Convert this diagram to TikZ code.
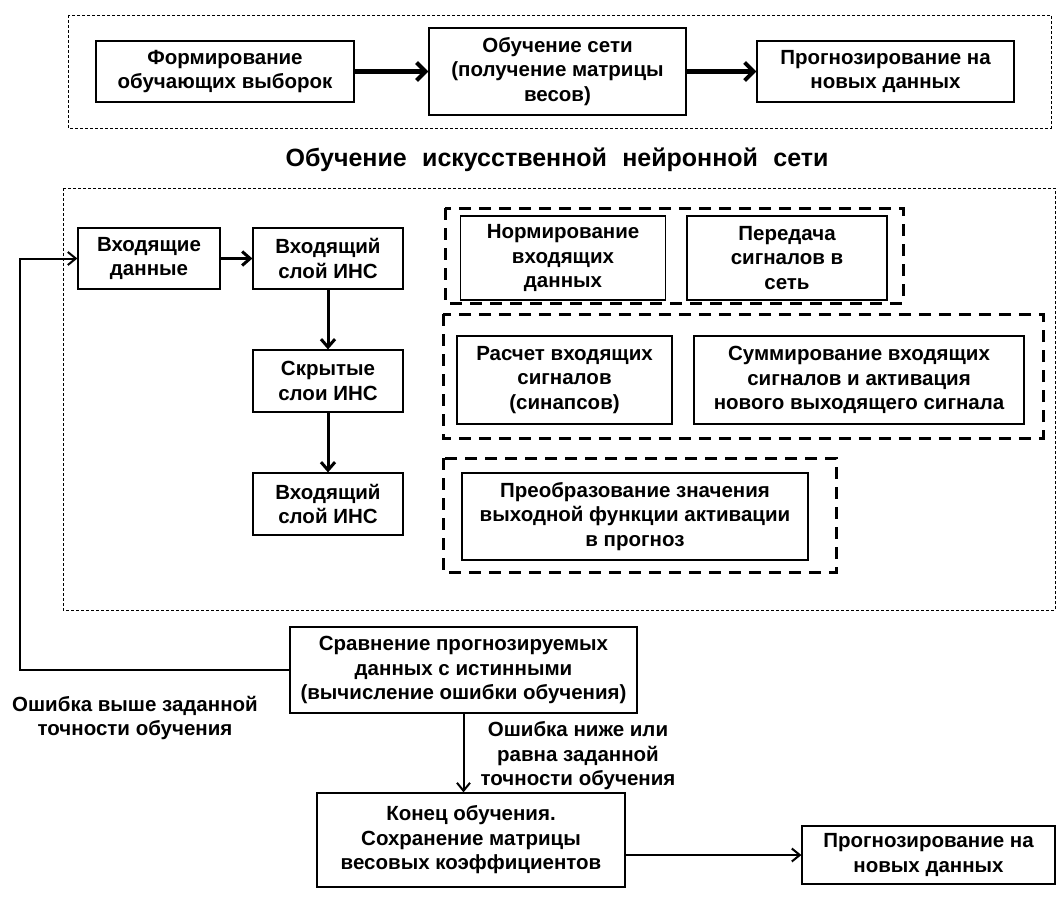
\documentclass[tikz,border=0pt]{standalone}
\usepackage{fontspec}
\setmainfont{Liberation Sans}
\newfontfamily\titlefont[WordSpace=2.2]{Liberation Sans}
\usepackage{tikz}
\usetikzlibrary{arrows.meta, positioning, calc}

\tikzset{
  box/.style={draw, line width=1.2pt, align=center, inner sep=0pt, font=\bfseries\fontsize{20.5}{24.5}\selectfont},
  frame/.style={draw, line width=0.8pt, dash pattern=on 3pt off 2pt},
  group/.style={draw, line width=3pt, dash pattern=on 12pt off 8pt},
  bigarrow/.style={-{Straight Barb[length=9pt,width=18pt]}, line width=4pt},
  midarrow/.style={-{Straight Barb[length=8pt,width=14pt]}, line width=3pt},
  thinarrow/.style={-{Straight Barb[length=8pt,width=13pt]}, line width=2pt},
  note/.style={align=center, inner sep=0pt, font=\bfseries\fontsize{20.5}{24.5}\selectfont}
}

\begin{document}
\begin{tikzpicture}[x=1pt, y=-1pt]
\useasboundingbox (0,0) rectangle (1057,899);

% Top row
\draw[frame] (68,15) rectangle (1051,128);
\node[box, minimum width=258pt, minimum height=61pt] (form) at (225,71.5) {Формирование\\обучающих выборок};
\node[box, minimum width=257pt, minimum height=87pt] (train) at (557.5,71.5) {Обучение сети\\(получение матрицы\\весов)};
\node[box, minimum width=257pt, minimum height=61pt] (fcast) at (885.5,71.5) {Прогнозирование на\\новых данных};
\draw[bigarrow] (form) -- (train);
\draw[bigarrow] (train) -- (fcast);

% Title
\node[note, font=\titlefont\bfseries\fontsize{25}{28}\selectfont] (title) at (557,160) {Обучение искусственной нейронной сети};

% Network block
\draw[frame] (63,188) rectangle (1055,610);
\node[box, minimum width=142pt, minimum height=61pt] (indata) at (149,258.5) {Входящие\\данные};
\node[box, minimum width=150pt, minimum height=61pt] (inlayer) at (328,258.5) {Входящий\\слой ИНС};
\node[box, minimum width=150pt, minimum height=62pt] (hidden) at (328,381) {Скрытые\\слои ИНС};
\node[box, minimum width=150pt, minimum height=62pt] (outlayer) at (328,504) {Входящий\\слой ИНС};
\draw[midarrow] (indata) -- (inlayer);
\draw[midarrow] (inlayer) -- (hidden);
\draw[midarrow] (hidden) -- (outlayer);

% Steps
\draw[group] (445,208) rectangle (903,303);
\node[box, minimum width=205pt, minimum height=84pt] (norm) at (563,258) {Нормирование\\входящих\\данных};
\node[box, minimum width=200pt, minimum height=84pt] (send) at (787,258) {Передача\\сигналов в\\сеть};

\draw[group] (443,314) rectangle (1043,438);
\node[box, minimum width=215pt, minimum height=88pt] (calc) at (564.5,380) {Расчет входящих\\сигналов\\(синапсов)};
\node[box, minimum width=330pt, minimum height=88pt] (summ) at (859,380) {Суммирование входящих\\сигналов и активация\\нового выходящего сигнала};

\draw[group] (443,458) rectangle (836,572);
\node[box, minimum width=346pt, minimum height=87pt] (conv) at (635,516.5) {Преобразование значения\\выходной функции активации\\в прогноз};

% Check and end
\node[box, minimum width=347pt, minimum height=86pt] (cmp) at (463.5,670) {Сравнение прогнозируемых\\данных с истинными\\(вычисление ошибки обучения)};
\node[box, minimum width=308pt, minimum height=94pt] (stop) at (471,840) {Конец обучения.\\Сохранение матрицы\\весовых коэффициентов};
\node[box, minimum width=253pt, minimum height=58pt] (newdata) at (928.5,855) {Прогнозирование на\\новых данных};
\coordinate (back) at (20,670);
\draw[thinarrow] (cmp.west) -- (back) |- (indata.west);
\draw[thinarrow] (cmp.south) -- (cmp.south |- stop.north);
\draw[thinarrow] (stop.east |- newdata) -- (newdata.west);

\node[note] (above) at (135,718) {Ошибка выше заданной\\точности обучения};
\node[note] (below) at (578,756) {Ошибка ниже или\\равна заданной\\точности обучения};
\end{tikzpicture}
\end{document}
